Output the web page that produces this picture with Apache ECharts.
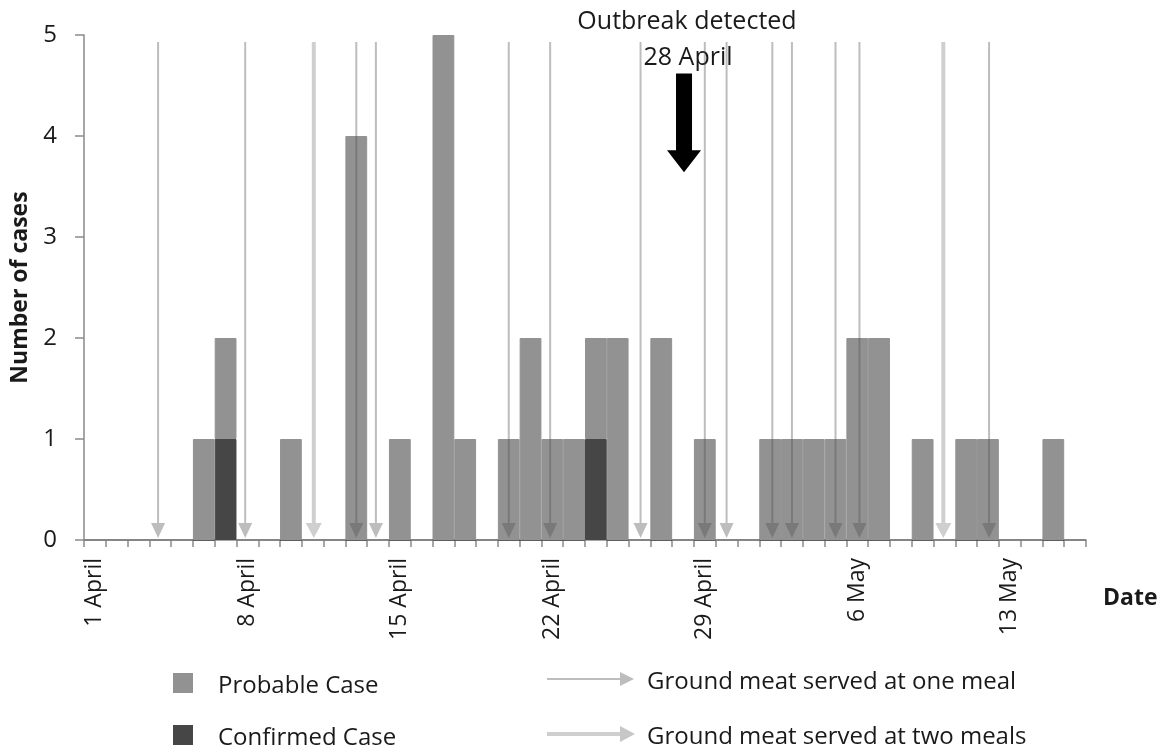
<!DOCTYPE html>
<html>
<head>
<meta charset="utf-8">
<script src="https://cdn.jsdelivr.net/npm/echarts@6/dist/echarts.min.js"></script>
<style>
html,body{margin:0;padding:0;background:#fff;}
#main{width:1164px;height:748px;}
</style>
</head>
<body>
<div id="main"></div>
<script>
// ---- data ----
var days = [
  '1 April','2 April','3 April','4 April','5 April','6 April','7 April','8 April','9 April','10 April',
  '11 April','12 April','13 April','14 April','15 April','16 April','17 April','18 April','19 April','20 April',
  '21 April','22 April','23 April','24 April','25 April','26 April','27 April','28 April','29 April','30 April',
  '1 May','2 May','3 May','4 May','5 May','6 May','7 May','8 May','9 May','10 May',
  '11 May','12 May','13 May','14 May','15 May','16 May'
];
var confirmedCases = [
  0,0,0,0,0,0,1,0,0,0,
  0,0,0,0,0,0,0,0,0,0,
  0,0,0,1,0,0,0,0,0,0,
  0,0,0,0,0,0,0,0,0,0,
  0,0,0,0,0,0
];
var probableCases = [
  0,0,0,0,0,1,1,0,0,1,
  0,0,4,0,1,0,5,1,0,1,
  2,1,1,1,2,0,2,0,1,0,
  0,1,1,1,1,2,2,0,1,0,
  1,1,0,0,1,0
];
// meal times, in days since 1 April 00:00
var oneMealDays = [3.4, 7.4, 12.5, 13.4, 19.5, 21.4, 25.55, 28.5, 29.5, 31.6, 32.5, 34.5, 35.6, 41.55];
var twoMealDays = [10.55, 39.45];
var outbreakDay = [27.5];
var seriesNames = ['Probable Case', 'Confirmed Case'];
var mealLabels = ['Ground meat served at one meal', 'Ground meat served at two meals'];

var FONT = '"Open Sans", "DejaVu Sans", sans-serif';
var TXT = '#1a1a1a';
var AX = '#8a8a8a';
var PROB = '#929292', CONF = '#464646';
var ONE = 'rgba(82,82,82,0.38)', TWO = 'rgba(95,95,95,0.30)';

var chart = echarts.init(document.getElementById('main'), null, {renderer: 'canvas'});

function mealArrow(thick) {
  return function (params, api) {
    var x = api.value(0);
    var top = api.coord([x, 4.93]);
    var bot = api.coord([x, 0]);
    var tipY = bot[1] - 2;
    var headH = 15, headW = thick ? 16 : 14;
    var col = thick ? TWO : ONE;
    return {
      type: 'group',
      children: [
        {type: 'line', shape: {x1: top[0], y1: top[1], x2: top[0], y2: tipY - headH},
         style: {stroke: col, lineWidth: thick ? 4 : 2}},
        {type: 'polygon', shape: {points: [[top[0] - headW / 2, tipY - headH], [top[0] + headW / 2, tipY - headH], [top[0], tipY]]},
         style: {fill: col}}
      ]
    };
  };
}

var option = {
  backgroundColor: '#fff',
  animation: false,
  textStyle: {fontFamily: FONT},
  grid: {left: 84, right: 78, top: 35, bottom: 208, containLabel: false},
  xAxis: [
    {
      type: 'category', data: days, boundaryGap: true,
      axisLine: {show: true, lineStyle: {color: AX, width: 1.5}},
      axisTick: {show: true, interval: 0, length: 7, lineStyle: {color: AX, width: 1.5}},
      axisLabel: {interval: 6, rotate: 90, fontSize: 23, color: TXT, margin: 18, fontFamily: FONT},
      splitLine: {show: false}
    },
    {type: 'value', min: 0, max: 46, show: false}
  ],
  yAxis: {
    type: 'value', min: 0, max: 5, interval: 1,
    name: 'Number of cases', nameLocation: 'middle', nameGap: 47,
    nameTextStyle: {fontSize: 23, fontWeight: 'bold', color: TXT, fontFamily: FONT},
    axisLine: {show: true, lineStyle: {color: AX, width: 1.5}},
    axisTick: {show: true, length: 9, lineStyle: {color: AX, width: 1.5}},
    axisLabel: {fontSize: 24, color: TXT, margin: 27, fontFamily: FONT},
    splitLine: {show: false}
  },
  series: [
    {
      name: seriesNames[1], type: 'bar', stack: 'cases', data: confirmedCases,
      barWidth: '100%', barCategoryGap: '0%',
      itemStyle: {color: CONF, borderColor: CONF, borderWidth: 1}
    },
    {
      name: seriesNames[0], type: 'bar', stack: 'cases', data: probableCases,
      barWidth: '100%', barCategoryGap: '0%',
      itemStyle: {color: PROB, borderColor: PROB, borderWidth: 1}
    },
    {
      name: 'oneMeal', type: 'custom', xAxisIndex: 1, z: 5,
      data: oneMealDays.map(function (d) { return [d]; }),
      renderItem: mealArrow(false), silent: true
    },
    {
      name: 'twoMeals', type: 'custom', xAxisIndex: 1, z: 5,
      data: twoMealDays.map(function (d) { return [d]; }),
      renderItem: mealArrow(true), silent: true
    },
    {
      name: 'outbreak', type: 'custom', xAxisIndex: 1, z: 6, silent: true,
      data: outbreakDay.map(function (d) { return [d]; }),
      renderItem: function (params, api) {
        var x = api.value(0);
        var top = api.coord([x, 4.62]);
        var base = api.coord([x, 3.86]);
        var tip = api.coord([x, 3.64]);
        var cx = top[0] + 1;
        return {
          type: 'polygon',
          shape: {points: [
            [cx - 8, top[1]], [cx + 8, top[1]], [cx + 8, base[1]], [cx + 17, base[1]],
            [cx, tip[1]], [cx - 17, base[1]], [cx - 8, base[1]]
          ]},
          style: {fill: '#000'}
        };
      }
    }
  ],
  graphic: [
    {type: 'text', x: 687, y: 22, style: {text: 'Outbreak detected', font: '25px ' + FONT, fill: TXT, textAlign: 'center', textVerticalAlign: 'middle'}},
    {type: 'text', x: 688, y: 58, style: {text: '28 April', font: '25px ' + FONT, fill: TXT, textAlign: 'center', textVerticalAlign: 'middle'}},
    {type: 'text', x: 1103, y: 598, style: {text: 'Date', font: 'bold 23px ' + FONT, fill: TXT, textAlign: 'left', textVerticalAlign: 'middle'}},
    // legend for case types
    {type: 'rect', shape: {x: 173, y: 673, width: 20, height: 20}, style: {fill: PROB}},
    {type: 'text', x: 218, y: 686, style: {text: seriesNames[0], font: '24px ' + FONT, fill: TXT, textAlign: 'left', textVerticalAlign: 'middle'}},
    {type: 'rect', shape: {x: 173, y: 725, width: 20, height: 20}, style: {fill: CONF}},
    {type: 'text', x: 218, y: 738, style: {text: seriesNames[1], font: '24px ' + FONT, fill: TXT, textAlign: 'left', textVerticalAlign: 'middle'}},
    // legend for meal arrows
    {type: 'line', shape: {x1: 547, y1: 679, x2: 620, y2: 679}, style: {stroke: ONE, lineWidth: 2}},
    {type: 'polygon', shape: {points: [[620, 672], [620, 686], [634, 679]]}, style: {fill: ONE}},
    {type: 'text', x: 647, y: 682, style: {text: mealLabels[0], font: '24px ' + FONT, fill: TXT, textAlign: 'left', textVerticalAlign: 'middle'}},
    {type: 'line', shape: {x1: 547, y1: 734, x2: 620, y2: 734}, style: {stroke: TWO, lineWidth: 4}},
    {type: 'polygon', shape: {points: [[620, 726], [620, 742], [635, 734]]}, style: {fill: 'rgba(95,95,95,0.35)'}},
    {type: 'text', x: 647, y: 737, style: {text: mealLabels[1], font: '24px ' + FONT, fill: TXT, textAlign: 'left', textVerticalAlign: 'middle'}}
  ]
};
chart.setOption(option);
</script>
</body>
</html>
